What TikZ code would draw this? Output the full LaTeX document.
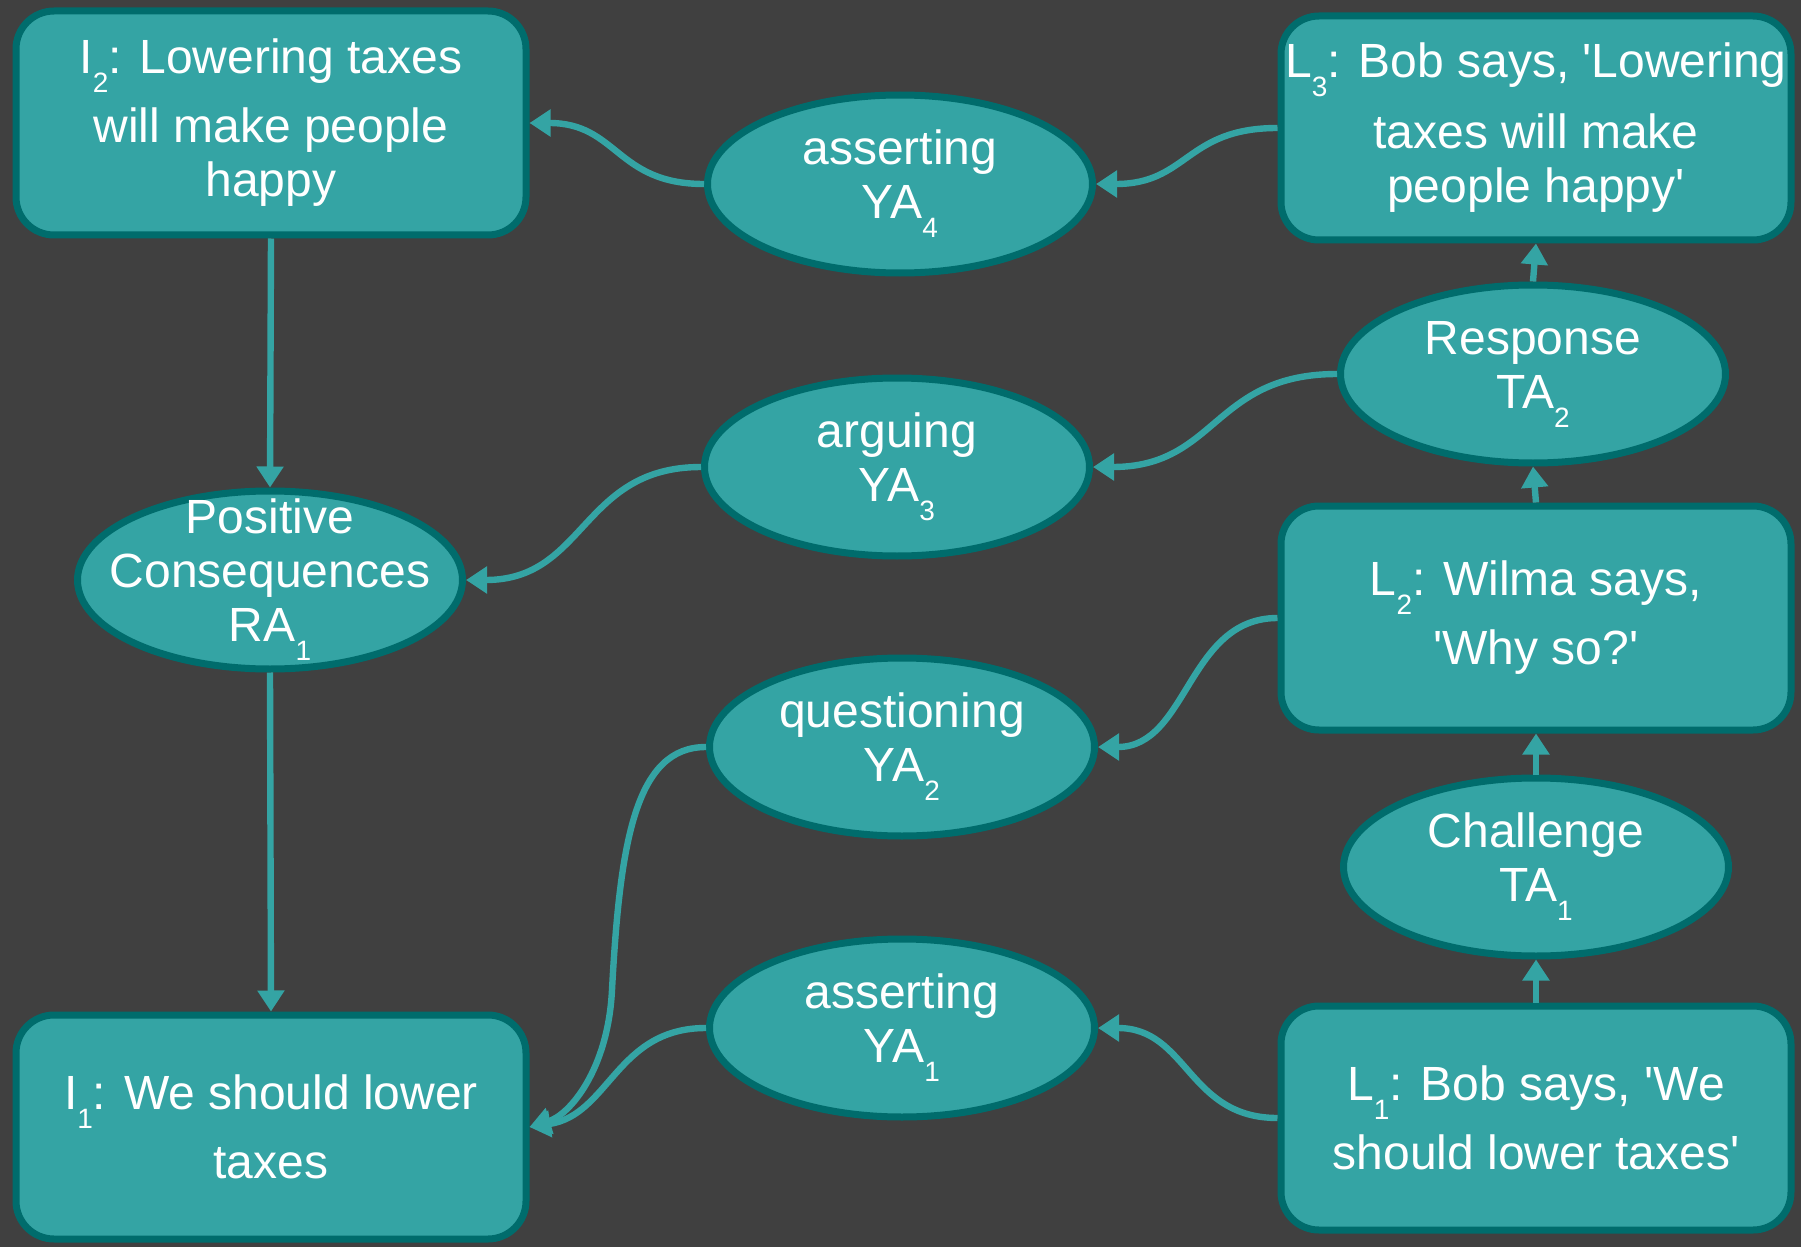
\documentclass[tikz,border=0pt]{standalone}
\usepackage{fontspec}
\setmainfont{Liberation Sans}
\usetikzlibrary{shapes.geometric,arrows.meta}
\definecolor{bgdark}{HTML}{404040}
\definecolor{tealfill}{HTML}{34A4A4}
\definecolor{tealedge}{HTML}{006C6C}
% lowered small index, as in I_2 or YA_4
\newcommand{\lowsub}[1]{\raisebox{-9.5pt}{\fontsize{14pt}{14pt}\selectfont #1}}
\newcommand{\sq}{\textquotesingle}
\begin{document}
\begin{tikzpicture}[x=0.5pt,y=-0.5pt,
  txt/.style={text=white, font=\fontsize{24pt}{27pt}\selectfont, align=center},
  infobox/.style={txt, rectangle, rounded corners=19pt, draw=tealedge, fill=tealfill,
    line width=3.5pt, minimum width=255pt, minimum height=112pt, inner sep=2pt},
  actell/.style={ellipse, draw=tealedge, fill=tealfill, line width=3.5pt,
    minimum width=192.5pt, minimum height=89pt, inner sep=0pt,
    label={[txt]center:{#1}}},
  conn/.style={draw=tealfill, line width=3.2pt, -{Triangle[length=10.5pt,width=13pt]}}
]
\fill[bgdark] (0,0) rectangle (1801,1247);
\useasboundingbox (0,0) rectangle (1801,1247);

% locutions and propositions
\node[infobox] (i2) at (271,123) {I\lowsub{2}: Lowering taxes\\[7.5pt]will make people\\happy};
\node[infobox] (i1) at (271,1127) {I\lowsub{1}: We should lower\\[7.5pt]taxes};
\node[infobox] (l3) at (1536,128) {L\lowsub{3}: Bob says, \sq Lowering\\[7.5pt]taxes will make\\people happy\sq};
\node[infobox] (l2) at (1536,618) {L\lowsub{2}: Wilma says,\\[7.5pt]\sq Why so?\sq};
\node[infobox] (l1) at (1536,1118) {L\lowsub{1}: Bob says, \sq We\\[7.5pt]should lower taxes\sq};

% illocutions, transitions and inference
\node[actell={asserting\\YA\lowsub{4}}] (ya4) at (900,184) {};
\node[actell={Response\\TA\lowsub{2}}] (ta2) at (1533,374) {};
\node[actell={arguing\\YA\lowsub{3}}] (ya3) at (897,467) {};
\node[actell={Positive\\Consequences\\RA\lowsub{1}}] (ra1) at (270,580) {};
\node[actell={questioning\\YA\lowsub{2}}] (ya2) at (902,747) {};
\node[actell={Challenge\\TA\lowsub{1}}] (ta1) at (1536,867) {};
\node[actell={asserting\\YA\lowsub{1}}] (ya1) at (902,1028) {};

% bend point of the long questioning connector
\coordinate (qbend) at (612,990);

% curved connectors
\draw[conn] (ya4.west) .. controls +(-88,0) and +(88,0) .. (i2.east);
\draw[conn] (l3.west) .. controls +(-92,0) and +(92,0) .. (ya4.east);
\draw[conn] (ta2.west) .. controls +(-124,0) and +(124,0) .. (ya3.east);
\draw[conn] (ya3.west) .. controls +(-120,0) and +(120,0) .. (ra1.east);
\draw[conn] (l2.west) .. controls +(-90,0) and +(90,0) .. (ya2.east);
\draw[conn] (ya2.west) .. controls +(-70,0) and +(8,-150) .. (qbend)
                       .. controls +(-4,80) and +(40,-12) .. (i1.east);
\draw[conn] (ya1.west) .. controls +(-90,0) and +(80,-12) .. (i1.east);
\draw[conn] (l1.west) .. controls +(-90,0) and +(90,0) .. (ya1.east);

% straight connectors
\draw[conn] (i2.south) -- (ra1.north);
\draw[conn] (ra1.south) -- (i1.north);
\draw[conn] (l1.north) -- (ta1.south);
\draw[conn] (ta1.north) -- (l2.south);
\draw[conn] (l2.north) -- (ta2.south);
\draw[conn] (ta2.north) -- (l3.south);
\end{tikzpicture}
\end{document}
